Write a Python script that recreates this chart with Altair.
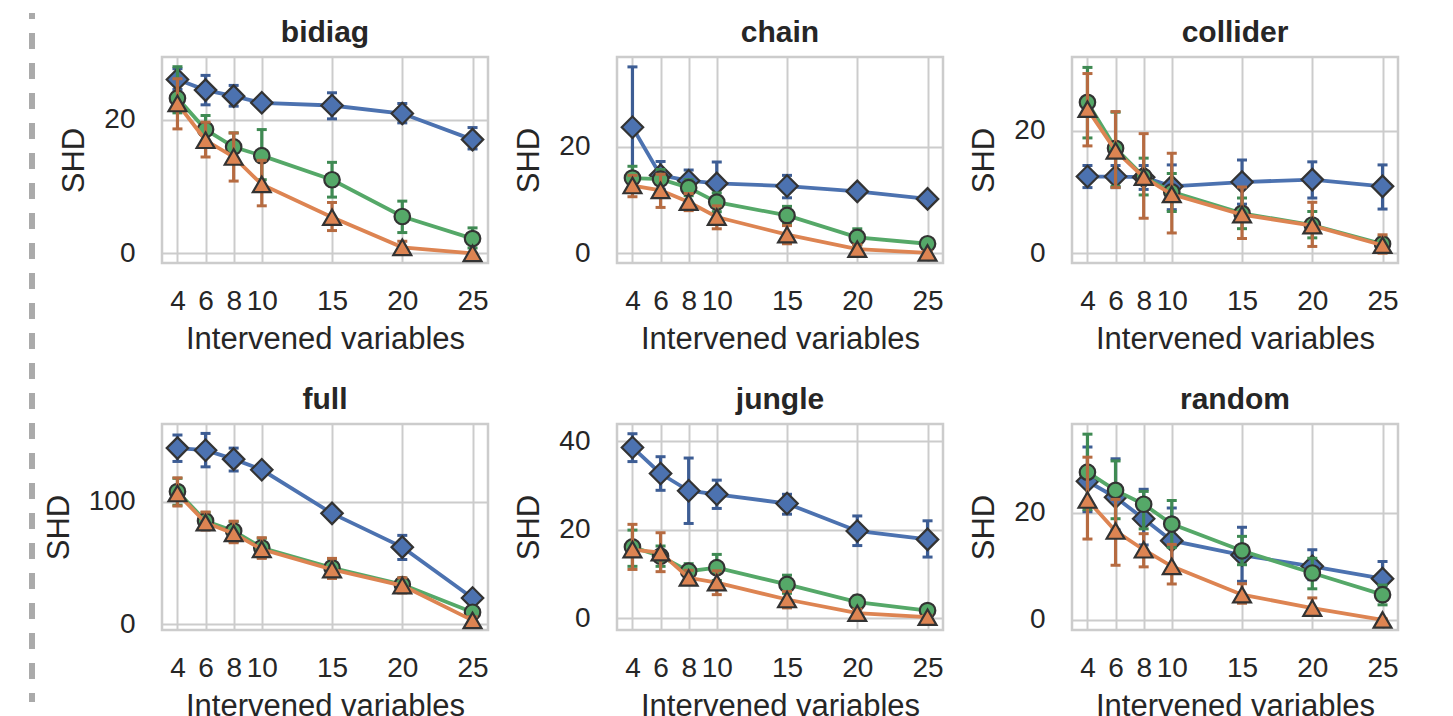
import altair as alt
import pandas as pd

X = [4, 6, 8, 10, 15, 20, 25]

# ---- bidiag ----
bidiag_blue = [26.0, 24.4, 23.5, 22.5, 22.1, 20.9, 17.0]
bidiag_blue_lo = [24.5, 22.2, 22.0, 21.8, 20.1, 19.5, 15.6]
bidiag_blue_hi = [27.6, 26.6, 25.1, 23.2, 24.0, 22.4, 18.8]
bidiag_green = [23.2, 18.5, 15.9, 14.6, 11.0, 5.5, 2.2]
bidiag_green_lo = [21.0, 16.5, 13.5, 11.0, 8.4, 3.1, 0.8]
bidiag_green_hi = [27.9, 20.6, 18.0, 18.5, 13.6, 7.8, 3.8]
bidiag_orange = [22.4, 16.9, 14.4, 10.3, 5.4, 0.9, 0.0]
bidiag_orange_lo = [18.6, 14.4, 10.8, 7.1, 3.4, 0.0, 0.0]
bidiag_orange_hi = [26.1, 19.6, 18.0, 13.9, 7.6, 1.8, 0.0]

# ---- chain ----
chain_blue = [23.6, 14.6, 13.6, 13.1, 12.6, 11.6, 10.2]
chain_blue_lo = [12.3, 12.0, 11.8, 9.3, 10.4, 10.8, 9.6]
chain_blue_hi = [34.9, 17.2, 15.6, 17.1, 14.6, 12.4, 10.8]
chain_green = [14.1, 13.9, 12.3, 9.6, 7.1, 3.0, 1.8]
chain_green_lo = [12.0, 11.8, 10.8, 7.8, 5.5, 1.6, 1.0]
chain_green_hi = [16.3, 15.7, 13.8, 11.3, 8.8, 4.6, 2.6]
chain_orange = [12.7, 11.8, 9.6, 6.8, 3.5, 0.8, 0.1]
chain_orange_lo = [10.6, 8.6, 8.0, 4.6, 1.8, 0.0, 0.0]
chain_orange_hi = [14.6, 14.8, 11.2, 8.9, 5.2, 1.6, 0.4]

# ---- collider ----
collider_blue = [12.5, 12.5, 12.4, 10.9, 11.6, 12.0, 10.9]
collider_blue_lo = [10.7, 10.7, 10.4, 7.1, 8.0, 9.0, 7.2]
collider_blue_hi = [14.3, 14.3, 14.3, 14.4, 15.2, 14.9, 14.4]
collider_green = [24.6, 17.1, 12.5, 10.0, 6.5, 4.6, 1.5]
collider_green_lo = [18.8, 10.9, 9.5, 6.8, 4.0, 2.5, 0.6]
collider_green_hi = [30.3, 23.0, 15.5, 13.0, 9.0, 6.8, 2.6]
collider_orange = [23.5, 16.7, 12.4, 9.6, 6.3, 4.5, 1.3]
collider_orange_lo = [17.5, 10.7, 5.7, 3.3, 2.4, 1.1, 0.0]
collider_orange_hi = [29.3, 23.1, 19.5, 16.3, 10.8, 8.3, 3.0]

# ---- full ----
full_blue = [143.7, 142.0, 134.7, 126.0, 90.4, 62.8, 21.3]
full_blue_lo = [132.8, 128.4, 125.0, 122.0, 86.5, 52.7, 17.5]
full_blue_hi = [154.4, 155.7, 143.7, 130.0, 94.0, 72.4, 25.0]
full_green = [108.2, 84.2, 76.0, 62.3, 45.9, 32.2, 9.6]
full_green_lo = [97.0, 77.5, 67.5, 54.5, 38.5, 26.0, 4.5]
full_green_hi = [119.0, 91.0, 83.5, 70.0, 53.0, 37.5, 14.0]
full_orange = [106.6, 82.8, 74.0, 61.0, 44.5, 31.4, 3.0]
full_orange_lo = [96.4, 76.8, 66.4, 53.6, 37.2, 25.4, 0.5]
full_orange_hi = [119.4, 91.5, 84.0, 70.5, 53.6, 37.7, 6.0]

# ---- jungle ----
jungle_blue = [38.6, 32.7, 28.8, 28.0, 25.9, 19.7, 17.8]
jungle_blue_lo = [35.4, 28.9, 21.4, 24.8, 23.5, 16.4, 13.8]
jungle_blue_hi = [41.7, 36.5, 36.2, 31.2, 28.0, 23.1, 22.0]
jungle_green = [16.1, 14.0, 10.6, 11.4, 7.6, 3.6, 1.7]
jungle_green_lo = [11.7, 11.7, 9.0, 8.5, 5.6, 2.2, 0.8]
jungle_green_hi = [19.9, 16.3, 12.3, 14.4, 9.7, 5.0, 2.6]
jungle_orange = [15.5, 14.8, 9.1, 8.0, 4.2, 1.1, 0.2]
jungle_orange_lo = [11.0, 10.5, 7.6, 5.3, 2.3, 0.2, 0.0]
jungle_orange_hi = [21.2, 19.3, 10.8, 10.7, 6.0, 2.0, 0.6]

# ---- random ----
random_blue = [25.9, 22.9, 18.9, 14.8, 12.1, 10.0, 7.7]
random_blue_lo = [20.2, 16.8, 14.0, 9.5, 7.2, 7.5, 6.3]
random_blue_hi = [32.3, 30.1, 24.4, 20.9, 17.3, 13.1, 10.9]
random_green = [27.6, 24.2, 21.6, 17.9, 12.9, 8.75, 4.7]
random_green_lo = [20.6, 18.9, 17.0, 13.5, 10.3, 5.8, 2.8]
random_green_hi = [34.7, 29.7, 24.0, 22.3, 15.6, 11.5, 6.5]
random_orange = [22.4, 16.6, 13.1, 10.0, 4.7, 2.2, 0.0]
random_orange_lo = [15.1, 10.2, 9.9, 6.7, 3.1, 1.0, 0.0]
random_orange_hi = [30.4, 22.5, 16.1, 14.1, 6.75, 4.1, 0.2]

PANELS = [
    ("bidiag", {"blue": (bidiag_blue, bidiag_blue_lo, bidiag_blue_hi),
                "green": (bidiag_green, bidiag_green_lo, bidiag_green_hi),
                "orange": (bidiag_orange, bidiag_orange_lo, bidiag_orange_hi)},
     [-1.45, 29.35], [0, 20]),
    ("chain", {"blue": (chain_blue, chain_blue_lo, chain_blue_hi),
               "green": (chain_green, chain_green_lo, chain_green_hi),
               "orange": (chain_orange, chain_orange_lo, chain_orange_hi)},
     [-1.8, 36.75], [0, 20]),
    ("collider", {"blue": (collider_blue, collider_blue_lo, collider_blue_hi),
                  "green": (collider_green, collider_green_lo, collider_green_hi),
                  "orange": (collider_orange, collider_orange_lo, collider_orange_hi)},
     [-1.6, 32.0], [0, 20]),
    ("full", {"blue": (full_blue, full_blue_lo, full_blue_hi),
              "green": (full_green, full_green_lo, full_green_hi),
              "orange": (full_orange, full_orange_lo, full_orange_hi)},
     [-4.9, 163.4], [0, 100]),
    ("jungle", {"blue": (jungle_blue, jungle_blue_lo, jungle_blue_hi),
                "green": (jungle_green, jungle_green_lo, jungle_green_hi),
                "orange": (jungle_orange, jungle_orange_lo, jungle_orange_hi)},
     [-2.7, 43.9], [0, 20, 40]),
    ("random", {"blue": (random_blue, random_blue_lo, random_blue_hi),
                "green": (random_green, random_green_lo, random_green_hi),
                "orange": (random_orange, random_orange_lo, random_orange_hi)},
     [-1.9, 36.6], [0, 20]),
]

STYLE = {
    "blue": dict(line="#4C72B0", err="#3D5D94", shape="diamond", size=460),
    "green": dict(line="#55A868", err="#3F8A53", shape="circle", size=240),
    "orange": dict(line="#DD8452", err="#B66B41", shape="triangle-up", size=320),
}

W, H = 326, 206


def make_panel(name, series, domain, yticks, with_dash=False):
    rows = []
    for s, (m, lo, hi) in series.items():
        for xi, mi, li, hi_ in zip(X, m, lo, hi):
            rows.append({"x": xi, "m": mi, "lo": li, "hi": hi_, "s": s})
    df = pd.DataFrame(rows)
    base = alt.Chart(df)
    xscale = alt.Scale(domain=[2.9, 26.1], nice=False, zero=False)
    yscale = alt.Scale(domain=domain, nice=False, zero=False)
    xaxis = alt.Axis(values=X, title="Intervened variables", format="d")
    yaxis = alt.Axis(values=yticks, title="SHD", format="d")
    xe = alt.X("x:Q", scale=xscale, axis=xaxis)
    layers = []
    for s in ["blue", "green", "orange"]:
        st = STYLE[s]
        b = base.transform_filter(alt.datum.s == s)
        layers.append(b.mark_rule(color=st["err"], strokeWidth=3.2).encode(
            x=xe, y=alt.Y("lo:Q", scale=yscale, axis=yaxis), y2="hi:Q"))
        for f in ["lo", "hi"]:
            layers.append(b.mark_tick(color=st["err"], orient="horizontal", size=10,
                                      thickness=3, opacity=1).encode(
                x=xe, y=alt.Y(f + ":Q", scale=yscale, axis=yaxis)))
        layers.append(b.mark_line(color=st["line"], strokeWidth=3.8).encode(
            x=xe, y=alt.Y("m:Q", scale=yscale, axis=yaxis)))
        layers.append(b.mark_point(shape=st["shape"], size=st["size"], filled=True,
                                   fill=st["line"], stroke="#333333", strokeWidth=2.2,
                                   opacity=1).encode(
            x=xe, y=alt.Y("m:Q", scale=yscale, axis=yaxis)))
    # panel title as a text mark (so it is not pushed by out-of-frame marks)
    title = alt.Chart(pd.DataFrame({"t": [name]})).mark_text(
        fontSize=30, fontWeight="bold", color="#262626", align="center",
        baseline="alphabetic", font="Liberation Sans", clip=False
    ).encode(text="t:N", x=alt.value(W / 2), y=alt.value(-15))
    layers.append(title)
    if with_dash:
        dash = alt.Chart(pd.DataFrame({"a": [0]})).mark_rule(
            color="#aaaaaa", strokeWidth=6, strokeDash=[16, 14], strokeDashOffset=10,
            clip=False).encode(x=alt.value(-130), y=alt.value(-44), y2=alt.value(645))
        layers.append(dash)
    return alt.layer(*layers).properties(width=W, height=H)


charts = [make_panel(n, s, d, t, with_dash=(i == 0)) for i, (n, s, d, t) in enumerate(PANELS)]

chart = alt.concat(*charts, columns=3, spacing={"row": 161, "column": 129},
                   bounds="flush").properties(
    padding={"left": 19, "top": 0, "right": 5, "bottom": 0}
).configure(font="Liberation Sans").configure_view(
    stroke="#cccccc", strokeWidth=2.5
).configure_axis(
    labelFontSize=28, labelColor="#262626", titleFontSize=31, titleColor="#262626",
    titleFontWeight="normal", ticks=False, tickSize=0, domain=False,
    gridColor="#cccccc", gridWidth=2, labelOverlap=False, labelFlush=False,
    labelFont="Liberation Sans", titleFont="Liberation Sans"
).configure_axisX(
    labelPadding=24, titlePadding=9
).configure_axisY(
    labelPadding=27, titlePadding=13
)

chart.save("out.html", embed_options={"renderer": "svg", "actions": False})
